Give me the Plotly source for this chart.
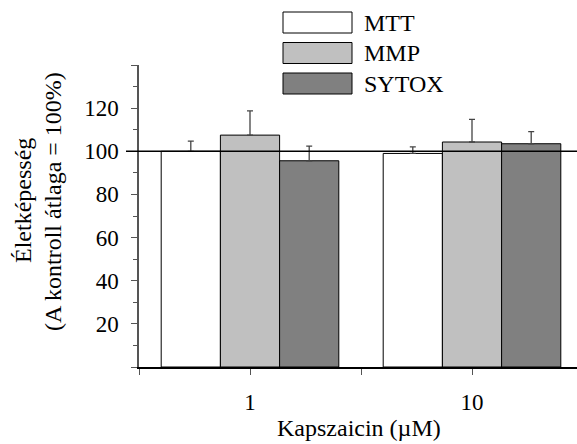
import plotly.graph_objects as go

# ---- data ----
groups = ["1", "10"]
series = ["MTT", "MMP", "SYTOX"]
mtt = [100.0, 99.0]
mtt_err = [4.7, 3.0]
mmp = [107.5, 104.3]
mmp_err = [11.2, 10.5]
sytox = [95.6, 103.5]
sytox_err = [6.8, 5.6]
colors = ["#ffffff", "#c0c0c0", "#808080"]
y_ticks = [0, 20, 40, 60, 80, 100, 120, 140]
y_ticktext = ["", "20", "40", "60", "80", "100", "120", ""]

values = [mtt, mmp, sytox]
errors = [mtt_err, mmp_err, sytox_err]
xpos = list(range(len(groups)))

FONT = "Liberation Serif"
W, H = 577, 444
L, R, T, B = 139, 0, 65, 77
PW, PH = W - L - R, H - T - B

def px(x):  # pixel -> paper x
    return (x - L) / PW

def py(y):  # pixel -> paper y
    return 1 - (y - T) / PH

fig = go.Figure()
for name, v, e, c in zip(series, values, errors, colors):
    fig.add_trace(go.Bar(
        x=xpos, y=v, name=name,
        marker=dict(color=c, line=dict(color="black", width=1)),
        error_y=dict(type="data", symmetric=False, array=e,
                     arrayminus=[0] * len(e), color="#444", thickness=1.3, width=3),
        showlegend=False,
    ))

# reference line at 100 %
fig.add_shape(type="line", xref="paper", yref="y", x0=px(126), x1=1, y0=100, y1=100,
              line=dict(color="black", width=1.5), layer="above")

# custom legend
for i, (name, c) in enumerate(zip(series, colors)):
    y0 = 12 + i * 30.5
    fig.add_shape(type="rect", xref="paper", yref="paper",
                  x0=px(283), x1=px(352), y0=py(y0), y1=py(y0 + 21),
                  fillcolor=c, line=dict(color="black", width=1))
    fig.add_annotation(xref="paper", yref="paper", x=px(362), y=py(y0 + 10.5),
                       text=name, showarrow=False, xanchor="left", yanchor="middle",
                       font=dict(family=FONT, size=24, color="black"))

# axis titles
fig.add_annotation(xref="paper", yref="paper", x=px(359), y=py(428),
                   text="Kapszaicin (µM)", showarrow=False, xanchor="center", yanchor="middle",
                   font=dict(family=FONT, size=24, color="black"))
fig.add_annotation(xref="paper", yref="paper", x=px(23), y=py(201),
                   text="Életképesség", showarrow=False, textangle=-90,
                   xanchor="center", yanchor="middle",
                   font=dict(family=FONT, size=24, color="black"))
fig.add_annotation(xref="paper", yref="paper", x=px(53), y=py(202),
                   text="(A kontroll átlaga = 100%)", showarrow=False, textangle=-90,
                   xanchor="center", yanchor="middle",
                   font=dict(family=FONT, size=24, color="black"))

fig.update_layout(
    width=W, height=H,
    margin=dict(l=L, r=R, t=T, b=B, pad=0),
    paper_bgcolor="white", plot_bgcolor="white",
    barmode="group", bargap=0.2, bargroupgap=0,
    font=dict(family=FONT, size=23, color="black"),
    xaxis=dict(range=[-0.5, -0.5 + PW / 222.0],
               tickvals=[-0.5, 0, 0.5, 1, 1.5],
               ticktext=["", groups[0], "", groups[1], ""],
               ticks="outside", ticklen=6, tickcolor="#555", tickwidth=1.3,
               showline=True, linecolor="black", linewidth=1.5,
               showgrid=False, zeroline=False, ticklabelstandoff=8,
               tickfont=dict(family=FONT, size=23)),
    yaxis=dict(range=[0, 140], tickvals=y_ticks, ticktext=y_ticktext,
               ticks="outside", ticklen=6, tickcolor="#555", tickwidth=1.3,
               minor=dict(dtick=10, ticks="outside", ticklen=4, tickcolor="#555", tickwidth=1.3),
               showline=True, linecolor="#555", linewidth=1.5,
               showgrid=False, zeroline=False, ticklabelstandoff=8,
               tickfont=dict(family=FONT, size=23)),
)

fig.write_html("out.html")
